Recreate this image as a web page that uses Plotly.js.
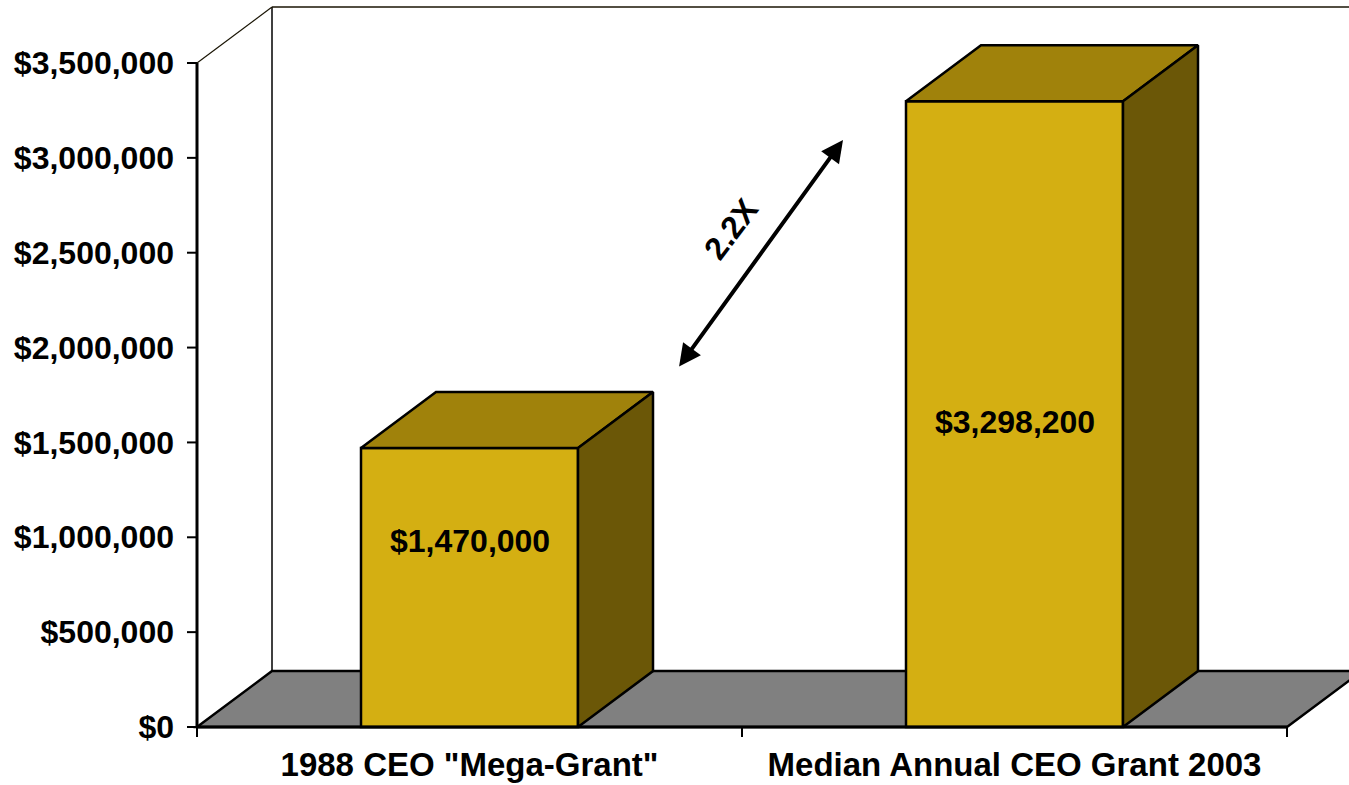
<!DOCTYPE html>
<html>
<head>
<meta charset="utf-8">
<script src="https://cdn.plot.ly/plotly-3.0.1.min.js"></script>
<style>
  html, body { margin: 0; padding: 0; background: #ffffff; }
  #chart { width: 1349px; height: 785px; }
</style>
</head>
<body>
<div id="chart"></div>
<script>
// ---------------- data ----------------
const categories = ['1988 CEO "Mega-Grant"', 'Median Annual CEO Grant 2003'];
const grantValues = [1470000, 3298200];
const valueLabels = ['$1,470,000', '$3,298,200'];
const yTickValues = [0, 500000, 1000000, 1500000, 2000000, 2500000, 3000000, 3500000];
const yTickLabels = ['$0', '$500,000', '$1,000,000', '$1,500,000', '$2,000,000', '$2,500,000', '$3,000,000', '$3,500,000'];
const ratioLabel = '2.2X';

// ---------------- geometry / style (pixels) ----------------
const G = {
  W: 1349, H: 785,
  axisLeftPx: 197, axisBottomPx: 727, axisTopPx: 63, yMax: 3500000,
  catWidthPx: 545, barWidthPx: 217,
  depthXPx: 75, depthYPx: 56,
  plotLeftPx: 183, plotTopPx: 3, plotBottomPx: 742,
  tickLenPx: 10
};
const pxPerUnit = (G.axisBottomPx - G.axisTopPx) / G.yMax;
const x2d = px => (px - G.axisLeftPx) / G.catWidthPx - 0.5;
const y2d = py => (G.axisBottomPx - py) / pxPerUnit;
const dX = G.depthXPx / G.catWidthPx;
const dY = G.depthYPx / pxPerUnit;
const barW = G.barWidthPx / G.catWidthPx;
const xMin = -0.5, xMaxCat = categories.length - 0.5;
const yAxisTop = yTickValues[yTickValues.length - 1];

const FONT = 'Liberation Sans, Arial, Helvetica, sans-serif';
const COL = { front: '#D4AF12', top: '#A0820B', side: '#6B5707', floor: '#808080' };

// ---------------- traces ----------------
const traces = [];
traces.push({
  type: 'bar', x: categories.map((c, i) => i), y: grantValues, width: barW,
  marker: { color: COL.front, line: { color: '#000', width: 2.5 } },
  hoverinfo: 'skip', showlegend: false
});
grantValues.forEach((v, i) => {
  const l = i - barW / 2, r = i + barW / 2;
  traces.push({
    type: 'scatter', mode: 'lines', fill: 'toself', fillcolor: COL.top,
    x: [l, r, r + dX, l + dX, l], y: [v, v, v + dY, v + dY, v],
    line: { color: '#000', width: 2.5 }, hoverinfo: 'skip', showlegend: false
  });
  traces.push({
    type: 'scatter', mode: 'lines', fill: 'toself', fillcolor: COL.side,
    x: [r, r, r + dX, r + dX, r], y: [0, v, v + dY, dY, 0],
    line: { color: '#000', width: 2.5 }, hoverinfo: 'skip', showlegend: false
  });
});

// ---------------- shapes: floor, walls, axis line, ticks ----------------
const shapes = [];
const xRight = x2d(G.W);
shapes.push({ type: 'path', layer: 'below', xref: 'x', yref: 'y',
  path: `M${xMin},0 L${xMaxCat},0 L${xMaxCat + dX},${dY} L${xMin + dX},${dY} Z`,
  fillcolor: COL.floor, line: { color: '#000', width: 2.5 } });
// back wall left edge
shapes.push({ type: 'line', layer: 'below', xref: 'x', yref: 'y',
  x0: xMin + dX, y0: dY, x1: xMin + dX, y1: yAxisTop + dY, line: { color: '#000', width: 1.5 } });
// back wall top edge
shapes.push({ type: 'line', layer: 'below', xref: 'x', yref: 'y',
  x0: xMin + dX, y0: yAxisTop + dY, x1: xRight + 1, y1: yAxisTop + dY, line: { color: '#1a1505', width: 1.5 } });
// side wall top diagonal
shapes.push({ type: 'line', layer: 'below', xref: 'x', yref: 'y',
  x0: xMin, y0: yAxisTop, x1: xMin + dX, y1: yAxisTop + dY, line: { color: '#1a1505', width: 1.2 } });
// y axis line
shapes.push({ type: 'line', layer: 'above', xref: 'x', yref: 'y',
  x0: xMin, y0: 0, x1: xMin, y1: yAxisTop, line: { color: '#000', width: 3 } });
// front floor edge (x axis line)
shapes.push({ type: 'line', layer: 'above', xref: 'x', yref: 'y',
  x0: xMin, y0: 0, x1: xMaxCat, y1: 0, line: { color: '#000', width: 3 } });
const tickDx = G.tickLenPx / G.catWidthPx, tickDy = G.tickLenPx / pxPerUnit;
yTickValues.forEach(v => shapes.push({ type: 'line', xref: 'x', yref: 'y',
  x0: xMin - tickDx, y0: v, x1: xMin, y1: v, line: { color: '#000', width: 2 } }));
for (let b = 0; b <= categories.length; b++) {
  const xb = xMin + b;
  shapes.push({ type: 'line', xref: 'x', yref: 'y',
    x0: xb, y0: 0, x1: xb, y1: -tickDy, line: { color: '#000', width: 2 } });
}

// ---------------- annotations ----------------
const labelAnchorY = [y2d(541), y2d(422)];
const annotations = grantValues.map((v, i) => ({
  x: i, y: labelAnchorY[i], xref: 'x', yref: 'y', text: valueLabels[i], showarrow: false,
  font: { family: FONT, size: 32, color: '#000', weight: 'bold' }
}));
annotations.push({
  x: x2d(843), y: y2d(140), ax: x2d(678), ay: y2d(368),
  xref: 'x', yref: 'y', axref: 'x', ayref: 'y', text: '', showarrow: true,
  arrowhead: 2, startarrowhead: 2, arrowside: 'end+start', arrowwidth: 4,
  arrowsize: 1.1, startarrowsize: 1.1, arrowcolor: '#000', standoff: 0, startstandoff: 0
});
annotations.push({
  x: x2d(731), y: y2d(229), xref: 'x', yref: 'y', text: ratioLabel, showarrow: false,
  textangle: -53, font: { family: FONT, size: 32, color: '#000', weight: 'bold' }
});

// ---------------- layout ----------------
const layout = {
  width: G.W, height: G.H,
  margin: { l: G.plotLeftPx, r: 0, t: G.plotTopPx, b: G.H - G.plotBottomPx, pad: 0 },
  paper_bgcolor: '#ffffff', plot_bgcolor: '#ffffff',
  showlegend: false,
  xaxis: {
    type: 'linear', range: [x2d(G.plotLeftPx), xRight], fixedrange: true,
    tickvals: categories.map((c, i) => i), ticktext: categories, ticks: '',
    showgrid: false, zeroline: false, showline: false, ticklabelstandoff: 0,
    tickfont: { family: FONT, size: 33, color: '#000', weight: 'bold' }
  },
  yaxis: {
    type: 'linear', range: [y2d(G.plotBottomPx), y2d(G.plotTopPx)], fixedrange: true,
    tickvals: yTickValues, ticktext: yTickLabels, ticks: '',
    showgrid: false, zeroline: false, showline: false, ticklabelstandoff: 8,
    tickfont: { family: FONT, size: 32, color: '#000', weight: 'bold' }
  },
  shapes: shapes,
  annotations: annotations,
  bargap: 0
};

Plotly.newPlot('chart', traces, layout, { staticPlot: true, displayModeBar: false });
</script>
</body>
</html>
